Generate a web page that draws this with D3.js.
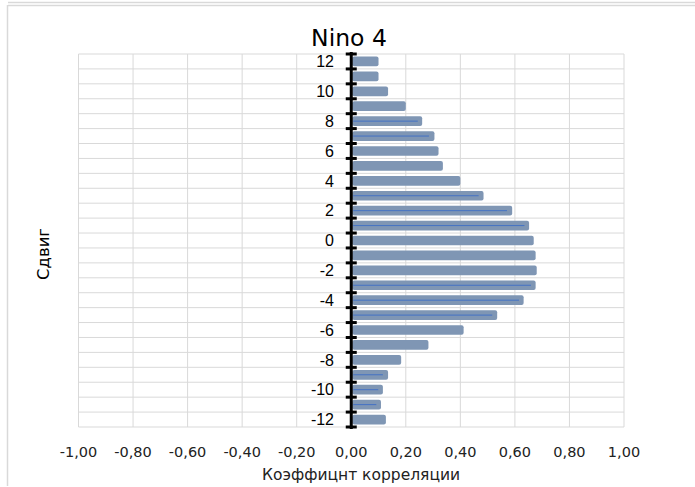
<!DOCTYPE html>
<html><head><meta charset="utf-8">
<script src="https://cdn.jsdelivr.net/npm/d3@7"></script>
<style>body{margin:0;background:#fff}svg{display:block}text{font-family:"DejaVu Sans",sans-serif}</style>
</head><body>
<script>
const lags = [12,11,10,9,8,7,6,5,4,3,2,1,0,-1,-2,-3,-4,-5,-6,-7,-8,-9,-10,-11,-12];
const corr = [0.10,0.10,0.135,0.20,0.26,0.305,0.32,0.336,0.40,0.485,0.59,0.652,0.669,0.676,0.68,0.676,0.632,0.535,0.412,0.283,0.183,0.135,0.116,0.109,0.127];
const thin = [null,null,null,null,0.244,0.285,null,null,null,0.467,0.571,0.635,null,null,null,0.659,0.615,0.517,null,null,null,0.116,0.099,0.092,null];
const yLabels = [12,10,8,6,4,2,0,-2,-4,-6,-8,-10,-12];
const xTicks = [-1,-0.8,-0.6,-0.4,-0.2,0,0.2,0.4,0.6,0.8,1];
const title = "Nino 4", xTitle = "Коэффицнт корреляции", yTitle = "Сдвиг";

const W=695,H=487;
const svg=d3.select("body").append("svg").attr("width",W).attr("height",H);
const grid="#d9d9d9";
// frames
svg.append("line").attr("x1",8).attr("x2",W).attr("y1",2.5).attr("y2",2.5).attr("stroke",grid).attr("stroke-width",1.5);
svg.append("line").attr("x1",8).attr("x2",W).attr("y1",5.5).attr("y2",5.5).attr("stroke",grid).attr("stroke-width",1.5);
svg.append("line").attr("x1",7.5).attr("x2",7.5).attr("y1",5).attr("y2",486).attr("stroke",grid).attr("stroke-width",1.5);

const L=78.5,R=624,T=54,B=427;
const x=d3.scaleLinear().domain([-1,1]).range([L,R]);
const y=d3.scaleBand().domain(lags).range([T,B]).paddingInner(0.35).paddingOuter(0.175);
const yb=d3.scaleLinear().domain([0,lags.length]).range([T,B]);

// grid
svg.append("g").selectAll("line").data(xTicks).join("line")
 .attr("x1",d=>x(d)).attr("x2",d=>x(d)).attr("y1",T).attr("y2",B).attr("stroke",grid);
svg.append("g").selectAll("line").data(d3.range(lags.length+1)).join("line")
 .attr("x1",L).attr("x2",R).attr("y1",d=>yb(d)).attr("y2",d=>yb(d)).attr("stroke",grid);

// bars
svg.append("g").selectAll("rect").data(lags).join("rect")
 .attr("x",x(0)+1).attr("y",d=>y(d)).attr("height",y.bandwidth())
 .attr("width",(d,i)=>x(corr[i])-x(0)-1).attr("rx",2).attr("fill","#7f96b4");
svg.append("g").selectAll("line").data(lags.filter((d,i)=>thin[i]!=null)).join("line")
 .attr("x1",x(0)+2).attr("x2",d=>x(thin[lags.indexOf(d)]))
 .attr("y1",d=>y(d)+y.bandwidth()/2).attr("y2",d=>y(d)+y.bandwidth()/2)
 .attr("stroke","#4472c4").attr("stroke-width",1);

// axis line and ticks
const x0=x(0);
svg.append("line").attr("x1",x0).attr("x2",x0).attr("y1",T-2).attr("y2",B+2).attr("stroke","#000").attr("stroke-width",3);
svg.append("g").selectAll("line").data(d3.range(lags.length+1)).join("line")
 .attr("x1",x0-5.5).attr("x2",x0+5.5).attr("y1",d=>yb(d)).attr("y2",d=>yb(d)).attr("stroke","#000").attr("stroke-width",3);

// y labels
svg.append("g").selectAll("text").data(yLabels).join("text")
 .attr("x",334).attr("y",d=>y(d)+y.bandwidth()/2).attr("dy","0.36em").attr("text-anchor","end")
 .style("font-family","'Liberation Sans',Arial,sans-serif")
 .attr("font-size",16).attr("fill","#000").text(d=>d);

// x labels
const fmt=d=>d3.format(".2f")(d).replace("−","-").replace(".",",");
svg.append("g").selectAll("text").data(xTicks).join("text")
 .attr("x",d=>x(d)).attr("y",452).attr("dy","0.36em").attr("text-anchor","middle")
 .attr("font-size",14.5).attr("fill","#222").text(fmt);

svg.append("text").attr("x",349).attr("y",38).attr("dy","0.36em").attr("text-anchor","middle").attr("font-size",23.5).attr("fill","#000").text(title);
svg.append("text").attr("x",361).attr("y",474).attr("dy","0.36em").attr("text-anchor","middle").attr("font-size",15.5).attr("fill","#222").text(xTitle);
svg.append("text").attr("transform","translate(43,254) rotate(-90)").attr("dy","0.36em").attr("text-anchor","middle").attr("font-size",16.5).attr("fill","#000").text(yTitle);
</script>
</body></html>
